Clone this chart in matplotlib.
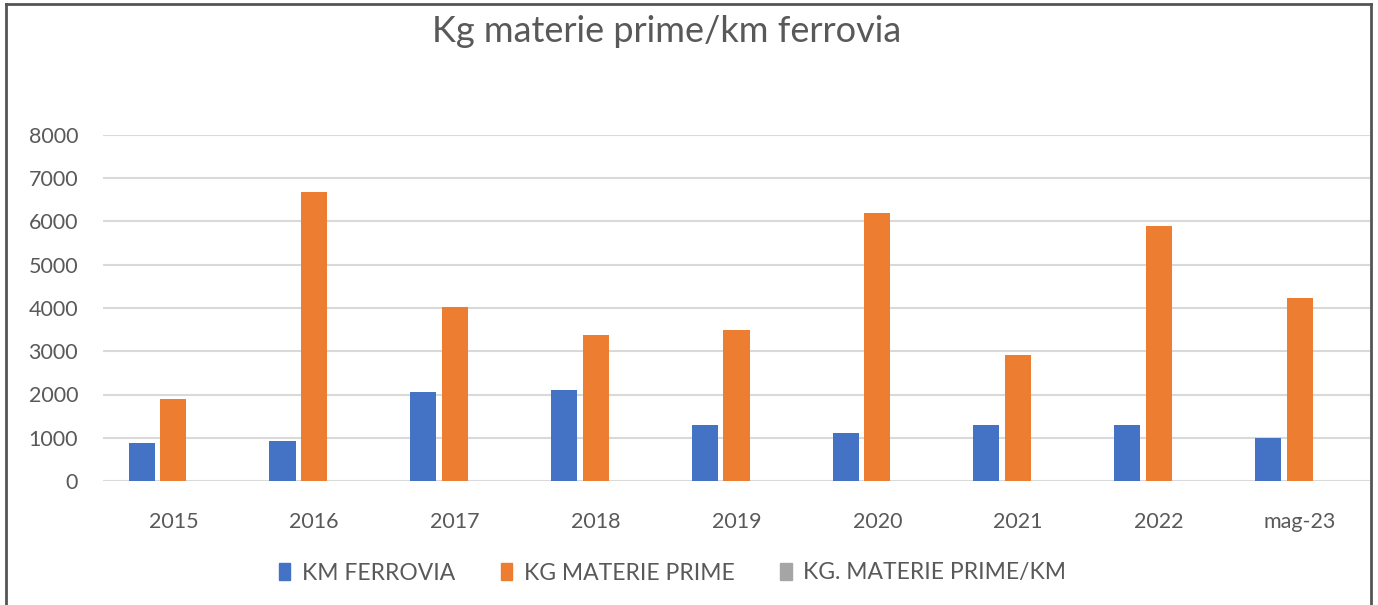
import matplotlib.pyplot as plt
from matplotlib.lines import Line2D
import numpy as np

plt.rcParams['font.family'] = ['Lato', 'DejaVu Sans']

categories = ['2015', '2016', '2017', '2018', '2019', '2020', '2021', '2022', 'mag-23']
km_ferrovia = [880, 925, 2060, 2105, 1295, 1110, 1295, 1295, 995]
kg_materie = [1900, 6680, 4020, 3380, 3490, 6200, 2915, 5895, 4230]
kg_per_km = [2.16, 7.22, 1.95, 1.61, 2.70, 5.59, 2.25, 4.55, 4.25]

labels = ['KM FERROVIA', 'KG MATERIE PRIME', 'KG. MATERIE PRIME/KM']
colors = ['#4472C4', '#ED7D31', '#A5A5A5']
text_col = '#595959'

fig = plt.figure(figsize=(13.78, 6.05), dpi=100)
ax = fig.add_axes([103 / 1378, 1 - 481 / 605, 1267 / 1378, 346 / 605])

x = np.arange(len(categories))
w = 0.185
off = 0.225
ax.bar(x - off, km_ferrovia, w, color=colors[0], label=labels[0], zorder=3)
ax.bar(x, kg_materie, w, color=colors[1], label=labels[1], zorder=3)
ax.bar(x + off, kg_per_km, w, color=colors[2], label=labels[2], zorder=3)

ax.set_xlim(-0.5, len(categories) - 0.5)
ax.set_ylim(0, 8000)
ax.set_yticks(range(0, 8001, 1000))
ax.set_xticks(x)
ax.set_xticklabels(categories)
ax.yaxis.grid(True, color='#D9D9D9', linewidth=1.5, zorder=0)
for s in ax.spines.values():
    s.set_visible(False)
ax.tick_params(length=0, labelsize=15.5, colors=text_col)
ax.tick_params(axis='x', pad=22)
ax.tick_params(axis='y', pad=18)

fig.text(0.484, 0.948, 'Kg materie prime/km ferrovia', ha='center', va='center',
         fontsize=26, color=text_col)

handles = [plt.Rectangle((0, 0), 1, 1, color=c) for c in colors]
fig.legend(handles, labels, loc='center', bbox_to_anchor=(0.488, 1 - 573 / 605),
           ncol=3, frameon=False, fontsize=16.5, handlelength=0.5, handleheight=0.7,
           columnspacing=2.0, handletextpad=0.5, labelcolor=text_col)

# outer frame of the chart (cropped at the bottom)
fc = '#555555'
fig.add_artist(Line2D([6 / 1378, 1371 / 1378], [1 - 4 / 605, 1 - 4 / 605], color=fc, lw=2))
fig.add_artist(Line2D([6 / 1378, 6 / 1378], [0, 1 - 4 / 605], color=fc, lw=2))
fig.add_artist(Line2D([1371 / 1378, 1371 / 1378], [0, 1 - 4 / 605], color=fc, lw=2))

fig.savefig('out.png', dpi=100)
